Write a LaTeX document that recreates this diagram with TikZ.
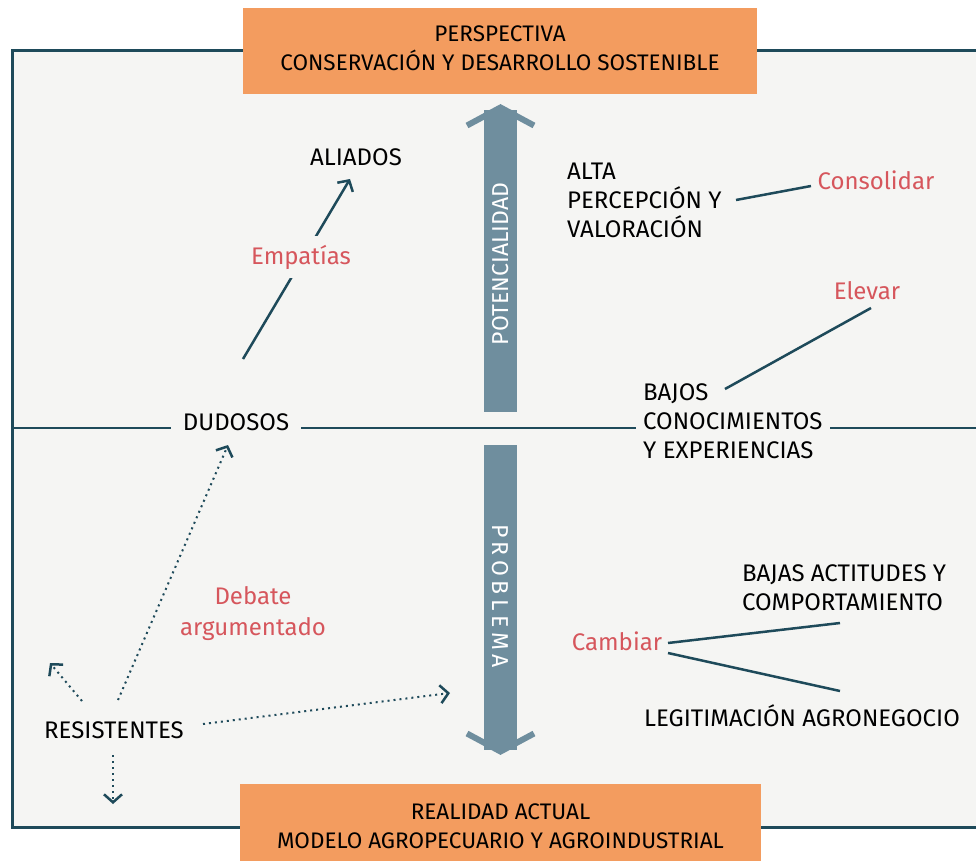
\documentclass[tikz,border=0pt]{standalone}
\usepackage{fontspec}
\setmainfont{Fira Sans}
\usetikzlibrary{arrows.meta}
\definecolor{frameC}{HTML}{1E4A5A}
\definecolor{orangeC}{HTML}{F39C5F}
\definecolor{arrowC}{HTML}{6F8E9E}
\definecolor{redC}{HTML}{D6565C}
\definecolor{bgC}{HTML}{F5F5F3}
\begin{document}
\begin{tikzpicture}[x=1pt, y=-1pt,
  txt/.style={font=\fontsize{24}{29}\selectfont, inner sep=0pt, text=black},
  act/.style={txt, text=redC},
  titlebox/.style={txt, font=\fontsize{22.5}{29}\selectfont, fill=orangeC, align=center},
  conn/.style={draw=frameC, line width=2.5pt},
  barb/.style={-{Straight Barb[length=8pt, width=18pt, line width=2.5pt]}},
  dots/.style={conn, line width=2pt, dash pattern=on 2pt off 4pt, barb},
  bigarrow/.style={draw=arrowC, line width=6pt, line join=miter}]
\clip (0,0) rectangle (976,861);
\fill[white] (0,0) rectangle (976,861);
\draw[frameC, line width=3pt, fill=bgC] (12,51) rectangle (990,827);

\node[titlebox, minimum width=514pt, minimum height=86pt] (persp) at (500,51) {};
\node[titlebox, anchor=center] (persptxt) at (500,48.5) {PERSPECTIVA\\CONSERVACIÓN Y DESARROLLO SOSTENIBLE};
\node[titlebox, minimum width=521pt, minimum height=84pt] (real) at (500.5,826) {REALIDAD ACTUAL\\MODELO AGROPECUARIO Y AGROINDUSTRIAL};

\fill[arrowC] (484,110) rectangle (517,412);
\draw[bigarrow] (467,125.5) -- (500.5,107.5) -- (534,125.5);
\node[txt, font=\fontsize{23}{29}\selectfont, text=white, rotate=90] (pot) at (500.5,264) {POTENCIALIDAD};
\fill[arrowC] (484,445) rectangle (517,750);
\draw[bigarrow] (467,733.5) -- (500.5,751.5) -- (534,733.5);
\node[txt, font=\fontsize{23}{29}\selectfont, text=white, rotate=-90] (prob) at (500.5,596) {\addfontfeature{LetterSpace=20}PROBLEMA};

\coordinate (mL) at (12,428);
\coordinate (mR) at (990,428);
\draw[conn] (mL) -- (mR);

\coordinate (e1) at (243,359);
\coordinate (e2) at (350,179);
\draw[conn, barb] (e1) -- (e2);
\node[txt] (aliados) at (356,157) {ALIADOS};
\node[act, fill=bgC, inner xsep=4pt, inner ysep=9pt] (empatias) at (301,257) {Empatías};
\node[txt, fill=bgC, inner xsep=12pt, inner ysep=4pt] (dudosos) at (236,422) {DUDOSOS};

\node[txt, align=left, anchor=west] (alta) at (567,200) {ALTA\\PERCEPCIÓN Y\\VALORACIÓN};
\node[act] (consolidar) at (876,180) {Consolidar};
\coordinate (c1) at (736,200);
\coordinate (c2) at (811,186);
\draw[conn] (c1) -- (c2);

\node[txt, align=left, anchor=west, fill=bgC, inner xsep=7pt, inner ysep=2pt] (bajos) at (636,421.5) {BAJOS\\CONOCIMIENTOS\\Y EXPERIENCIAS};
\node[act] (elevar) at (867,291) {Elevar};
\coordinate (v1) at (725,389);
\coordinate (v2) at (871,308);
\draw[conn] (v1) -- (v2);

\node[txt, align=left, anchor=west] (actitudes) at (742,587.5) {BAJAS ACTITUDES Y\\COMPORTAMIENTO};
\node[txt] (legit) at (802,716) {LEGITIMACIÓN AGRONEGOCIO};
\node[act] (cambiar) at (617,641) {Cambiar};
\coordinate (k1) at (668,643);
\coordinate (k2) at (840,623);
\coordinate (k3) at (668,653);
\coordinate (k4) at (840,691);
\draw[conn] (k1) -- (k2);
\draw[conn] (k3) -- (k4);

\node[act, font=\fontsize{24}{31}\selectfont, align=center] (debate) at (253,614) {Debate\\argumentado};
\node[txt] (resist) at (114,730) {RESISTENTES};
\coordinate (r1) at (118,700);
\coordinate (r2) at (228,445);
\coordinate (r3) at (82,701);
\coordinate (r4) at (50,663);
\coordinate (r5) at (203,724);
\coordinate (r6) at (450,693);
\coordinate (r7) at (113,755);
\coordinate (r8) at (113,804);
\draw[dots] (r1) -- (r2);
\draw[dots] (r3) -- (r4);
\draw[dots] (r5) -- (r6);
\draw[dots] (r7) -- (r8);
\end{tikzpicture}
\end{document}
